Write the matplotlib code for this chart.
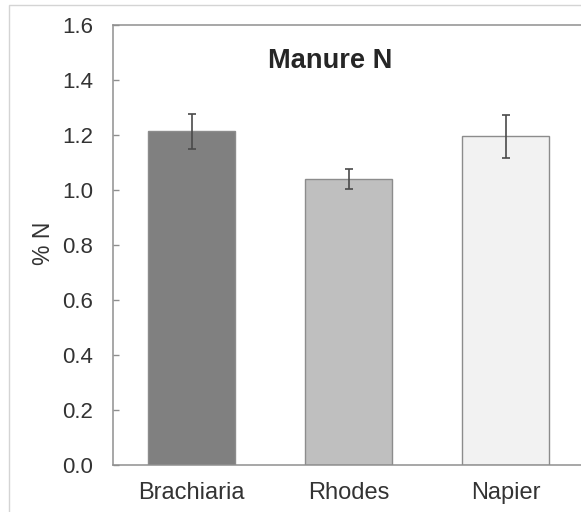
import matplotlib
matplotlib.use("Agg")
import matplotlib.pyplot as plt
from matplotlib.patches import Rectangle

categories = ["Brachiaria", "Rhodes", "Napier"]
values = [1.213, 1.040, 1.195]
errors = [0.064, 0.038, 0.079]
colors = ["#808080", "#bfbfbf", "#f2f2f2"]
yticks = [0.0, 0.2, 0.4, 0.6, 0.8, 1.0, 1.2, 1.4, 1.6]
title = "Manure N"
ylabel = "% N"

plt.rcParams['font.family'] = ['Liberation Sans', 'DejaVu Sans']

W, H = 581, 512
fig = plt.figure(figsize=(W / 100, H / 100), dpi=100)
fig.patch.set_facecolor("white")

# figure border (light gray)
fig.add_artist(Rectangle((9 / W, -0.1), 1.2, 1.1 - 5 / H, transform=fig.transFigure,
                         fill=False, edgecolor="#d4d4d4", linewidth=1.0))

left, right, bottom, top = 113, 584, 465, 25
ax = fig.add_axes([left / W, 1 - bottom / H, (right - left) / W, (bottom - top) / H])

x = list(range(len(categories)))
ax.bar(x, values, width=0.56, color=colors, edgecolor="#8c8c8c", linewidth=1.0, zorder=2)
ax.errorbar(x, values, yerr=errors, fmt="none", ecolor="#4a4a4a", elinewidth=1.2,
            capsize=2.6, capthick=1.2, zorder=3)

ax.set_xlim(-0.5, 2.5)
ax.set_ylim(0, 1.6)
ax.set_yticks(yticks)
ax.set_yticklabels([f"{v:.1f}" for v in yticks])
ax.set_xticks(x)
ax.set_xticklabels(categories)

for s in ax.spines.values():
    s.set_color("#8f8f8f")
    s.set_linewidth(1.1)

ax.tick_params(axis="y", direction="in", length=4.3, width=1.0, color="#8f8f8f",
               labelsize=16, pad=14.5, labelcolor="#333333")
ax.tick_params(axis="x", length=0, labelsize=17, pad=12.5, labelcolor="#333333")

ax.text((330 - left) / (right - left), (bottom - 67.7) / (bottom - top), title,
        transform=ax.transAxes, ha="center", va="baseline", fontsize=19.6,
        fontweight="bold", color="#262626")

fig.text(43 / W, 1 - 243 / H, ylabel, rotation=90, ha="center", va="center",
         fontsize=16.5, color="#333333")

fig.savefig("out.png", dpi=100, facecolor="white")
